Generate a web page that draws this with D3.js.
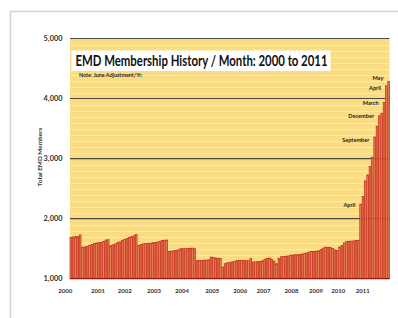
<!DOCTYPE html>
<html>
<head>
<meta charset="utf-8">
<script src="https://cdn.jsdelivr.net/npm/d3@7"></script>
<style>
  body { margin: 0; background: #fff; }
  text { font-family: Lato, "Open Sans", sans-serif; font-weight: bold; }
</style>
</head>
<body>
<script>
// monthly members, Jan 2000 .. May 2011 (one bar per entry)
var members = [
  1690, 1695, 1700, 1705, 1730,
  1525, 1530, 1540, 1555, 1570, 1585, 1595, 1600, 1605, 1620, 1645, 1650,
  1550, 1565, 1580, 1600, 1615, 1635, 1655, 1670, 1690, 1700, 1715, 1735,
  1555, 1570, 1580, 1585, 1585, 1590, 1600, 1605, 1610, 1620, 1635, 1640, 1645,
  1455, 1460, 1465, 1470, 1480, 1500, 1500, 1500, 1505, 1505, 1510, 1500,
  1300, 1305, 1305, 1310, 1310, 1315, 1360, 1355, 1345, 1340, 1335,
  1195, 1250, 1265, 1275, 1280, 1290, 1300, 1305, 1305, 1305, 1300, 1300, 1335,
  1280, 1280, 1285, 1290, 1300, 1325, 1335, 1345, 1325, 1295, 1250,
  1340, 1365, 1370, 1375, 1380, 1390, 1395, 1400, 1400, 1405, 1410, 1420,
  1430, 1445, 1455, 1455, 1460, 1465, 1485, 1510, 1525, 1525, 1520, 1505,
  1480, 1470, 1530, 1555, 1595, 1620, 1625, 1625, 1630, 1635, 1640,
  2240, 2367, 2628, 2728, 2867, 3023, 3360, 3540, 3712, 3755, 3933, 4212, 4283
];

var yearLabels = ['2000','2001','2002','2003','2004','2005','2006','2007','2008','2009','2010','2011'];
// where each year label sits, in bar units
var yearAt = [-2.5, 11.5, 23, 35.5, 47.5, 60.5, 72.5, 82.5, 94.5, 105, 114.5, 125];

var yTicks = [1000, 2000, 3000, 4000, 5000];

var noteNames = ['April', 'September', 'December', 'March', 'April', 'May'];
var noteBar = [124, 130, 132, 134, 135, 136];
var noteValue = [2230, 3310, 3715, 3925, 4180, 4345];

var W = 398, H = 318;
var plotL = 70, plotR = 389.5, plotT = 38.5, plotB = 278.7;

var svg = d3.select('body').append('svg')
    .attr('width', W)
    .attr('height', H);

// light frame
svg.append('path')
    .attr('d', 'M10.5,' + H + 'V11.5H' + W)
    .attr('fill', 'none')
    .attr('stroke', '#d4d4d4')
    .attr('stroke-width', 1.5);

var x = d3.scaleBand()
    .domain(d3.range(members.length))
    .range([plotL, plotR])
    .paddingInner(0.3);

var xi = d3.scaleLinear()
    .domain([-0.5, members.length - 0.5])
    .range([plotL, plotR]);

var y = d3.scaleLinear()
    .domain([1000, 5000])
    .range([plotB, plotT]);

svg.append('rect')
    .attr('x', plotL).attr('y', plotT)
    .attr('width', plotR - plotL).attr('height', plotB - plotT)
    .attr('fill', '#f9dc83');

// minor grid every 100
var minor = d3.range(1100, 5000, 100).filter(function (d) { return d % 1000 != 0; });
svg.selectAll('.minor')
    .data(minor)
    .enter().append('line')
    .attr('x1', plotL).attr('x2', plotR)
    .attr('y1', function (d) { return Math.round(y(d)) + 0.5; })
    .attr('y2', function (d) { return Math.round(y(d)) + 0.5; })
    .attr('stroke', '#fcebb2')
    .attr('stroke-width', 1);

svg.selectAll('.major')
    .data(yTicks.slice(1))
    .enter().append('line')
    .attr('x1', plotL).attr('x2', plotR)
    .attr('y1', function (d) { return y(d); })
    .attr('y2', function (d) { return y(d); })
    .attr('stroke', '#4a4a40')
    .attr('stroke-width', 1.1);

svg.selectAll('.bar')
    .data(members)
    .enter().append('rect')
    .attr('x', function (d, i) { return x(i); })
    .attr('y', function (d) { return y(d); })
    .attr('width', x.bandwidth())
    .attr('height', function (d) { return y(1000) - y(d); })
    .attr('fill', '#e88a5a')
    .attr('stroke', '#c4231a')
    .attr('stroke-width', 0.7);

// base line
svg.append('line')
    .attr('x1', plotL).attr('x2', plotR)
    .attr('y1', plotB).attr('y2', plotB)
    .attr('stroke', '#8c1c14')
    .attr('stroke-width', 1.3);

// y labels
svg.selectAll('.ylab')
    .data(yTicks)
    .enter().append('text')
    .attr('x', 62.5)
    .attr('y', function (d) { return y(d) + 2.6; })
    .attr('text-anchor', 'end')
    .attr('font-size', 7.4)
    .attr('fill', '#333')
    .text(d3.format(','));

svg.append('text')
    .attr('transform', 'translate(41.5,157) rotate(-90)')
    .attr('text-anchor', 'middle')
    .attr('font-size', 6.4)
    .attr('fill', '#333')
    .text('Total EMD Members');

// year labels
svg.selectAll('.xlab')
    .data(yearLabels)
    .enter().append('text')
    .attr('x', function (d, i) { return xi(yearAt[i]); })
    .attr('y', 293)
    .attr('text-anchor', 'middle')
    .attr('font-size', 6)
    .attr('fill', '#333')
    .text(function (d) { return d; });

// title box
svg.append('rect')
    .attr('x', 71.5).attr('y', 50.5)
    .attr('width', 259).attr('height', 20.5)
    .attr('fill', '#fff');

svg.append('text')
    .attr('x', 75.5).attr('y', 66.3)
    .attr('font-size', 15)
    .attr('fill', '#111')
    .attr('textLength', 252)
    .attr('lengthAdjust', 'spacingAndGlyphs')
    .text('EMD Membership History / Month: 2000 to 2011');

svg.append('text')
    .attr('x', 79).attr('y', 77.3)
    .attr('font-size', 5.4)
    .attr('fill', '#222')
    .text('Note: June Adjustment/Yr:');

// month notes next to the climb
svg.selectAll('.note')
    .data(noteNames)
    .enter().append('text')
    .attr('x', function (d, i) { return xi(noteBar[i]) - 5; })
    .attr('y', function (d, i) { return y(noteValue[i]) + 2; })
    .attr('text-anchor', 'end')
    .attr('font-size', 5.6)
    .attr('fill', '#222')
    .text(function (d) { return d; });
</script>
</body>
</html>
